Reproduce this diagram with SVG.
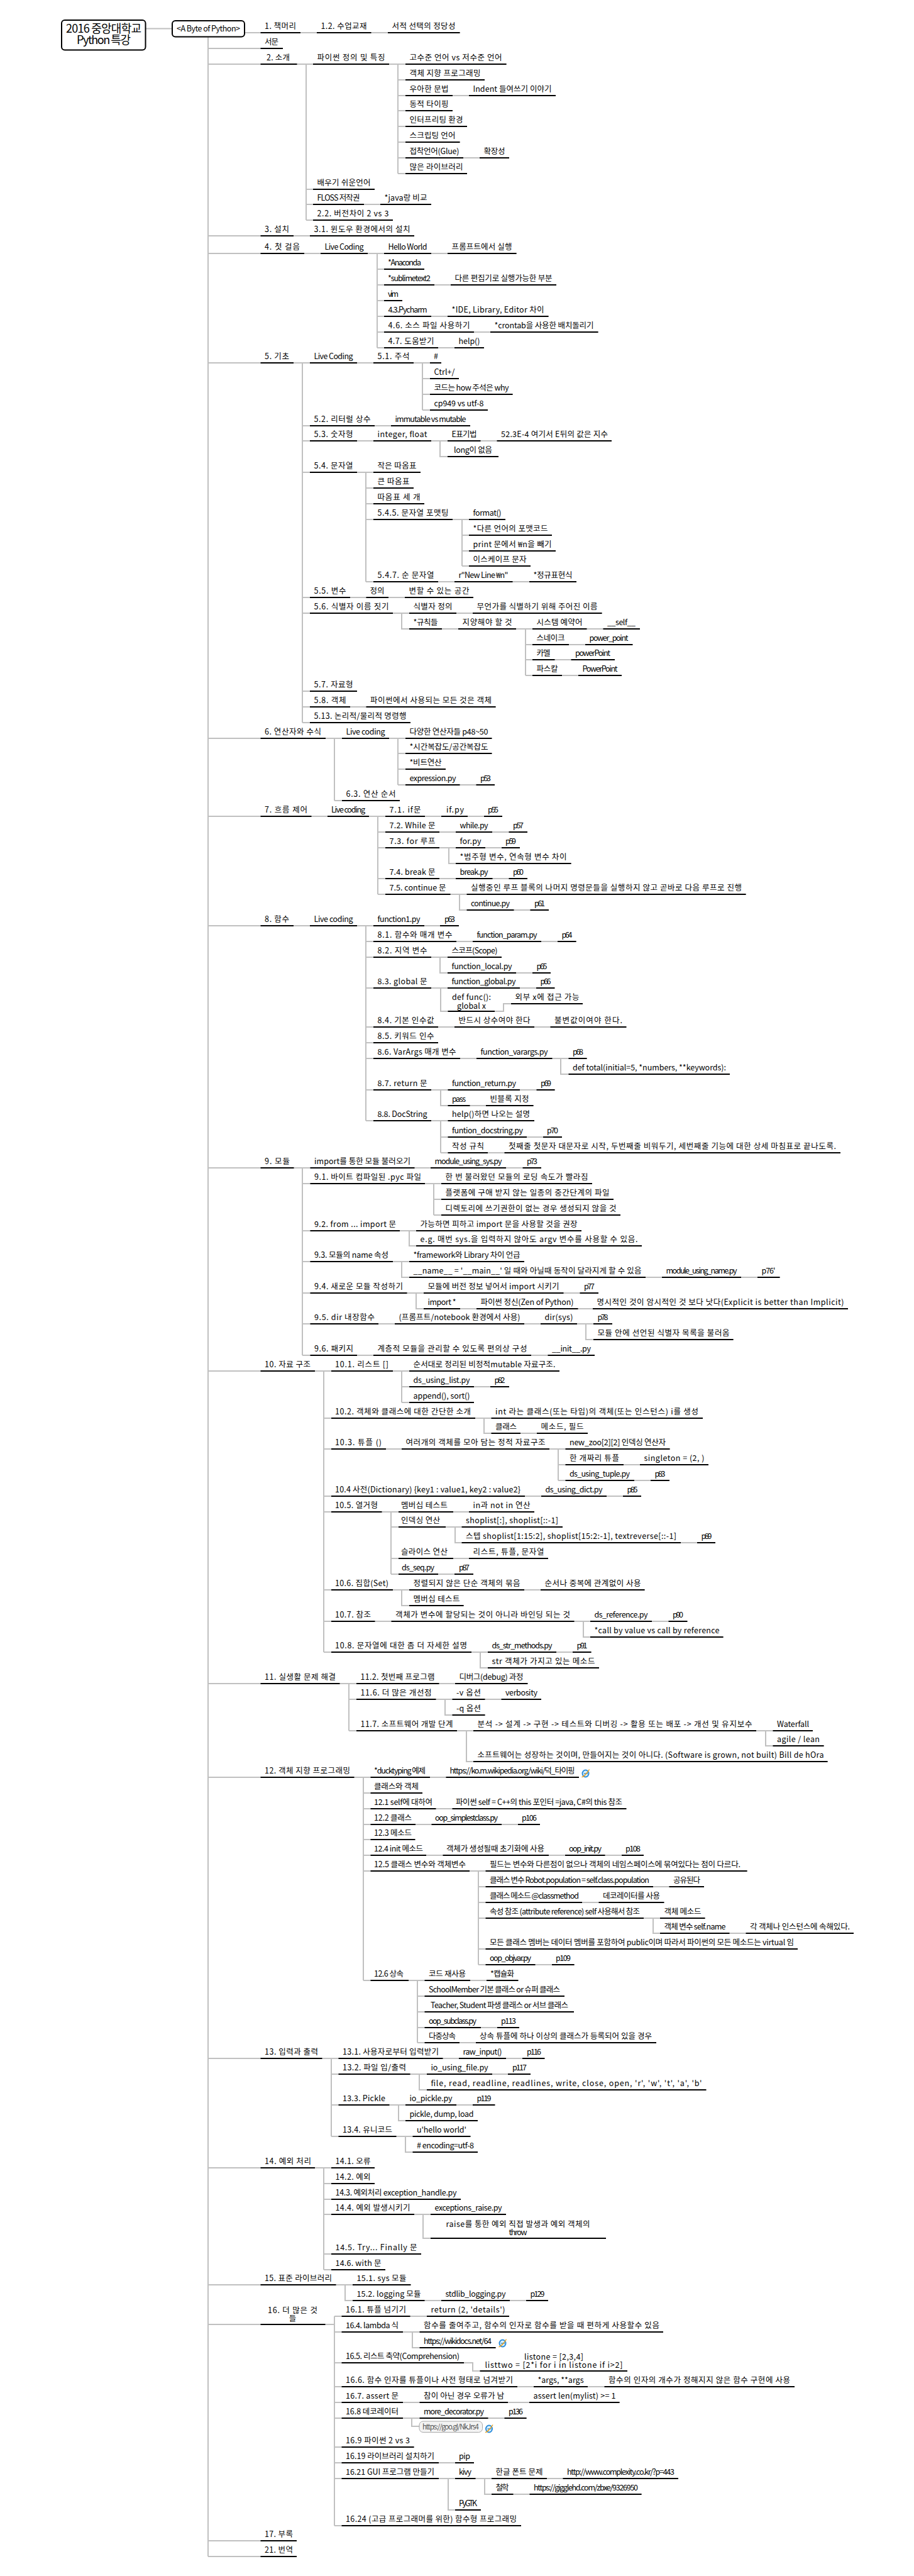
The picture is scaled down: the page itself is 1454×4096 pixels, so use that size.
<svg xmlns="http://www.w3.org/2000/svg" width="1454" height="4096" viewBox="0 0 1454 4096">
<style>
text{font-family:"Noto Sans CJK KR","Noto Sans",sans-serif;font-size:12.5px;fill:#000}
g path{fill:none;stroke:#000;stroke-width:2}
#connectors path{stroke:#c0c0c0;stroke-width:2;fill:none}
.m{text-anchor:middle}
.t{font-size:18px}
.u{font-size:11.5px;fill:#555}
</style>
<defs>
<symbol id="ie" viewBox="0 0 15 15"><ellipse cx="7.5" cy="8" rx="5" ry="5.5" fill="#d9f1ff" style="stroke:#2d8ddb;stroke-width:2"/><path d="M5 8H11" style="stroke:#2d8ddb;stroke-width:1.5"/><path d="M1.500 13.500C4 14 11 6 13.500 1.500" style="stroke:#e8a020;stroke-width:1.500;fill:none"/></symbol>
</defs>
<g id="connectors">
<path d="M231 45.500H274M331 58V4065M389 52H732M331 77H450"/>
<path d="M331 102H806M487 102V350M633 102V276M633 127H771M633 152H884M633 176H720M633 201H743M633 226H732M633 251H810M633 276H743M487 301H596M487 325H686M487 350H625"/>
<path d="M331 375H659"/>
<path d="M331 403H822M600 403V553M600 428H675M600 453H885M600 478H640M600 503H873M600 528H952M600 553H770"/>
<path d="M331 577H702M481 577V1149M672 577V652M672 602H730M672 627H816M672 652H776M481 677H748M481 701H973M700 701V726H793M481 751H669M582 751V925M582 776H658M582 801H675M582 826H804M735 826V900M735 851H878M735 876H884M735 900H844M582 925H917M481 950H753M481 975H958M639 975V1000H1018M836 1000V1074M836 1025H1006M836 1049H978M836 1074H989M481 1099H568M481 1124H789M481 1149H653"/>
<path d="M331 1174H782M532 1174V1273M633 1174V1248M633 1198H782M633 1223H709M633 1248H787M532 1273H636"/>
<path d="M331 1298H799M601 1298V1422M601 1323H839M601 1348H827M714 1348V1373H909M601 1397H839M601 1422H1187M731 1422V1447H873"/>
<path d="M331 1472H730M582 1472V1782M582 1497H917M582 1522H798M700 1522V1547H876M582 1571H882M701 1571V1608H787V1608H801V1596H927M582 1633H996M582 1658H697M582 1683H934M892 1683V1708H1161M582 1733H883M701 1733V1758H849M582 1782H850M701 1782V1833M701 1808H894M701 1833H1337"/>
<path d="M331 1857H861M481 1857V2155M481 1882H942M690 1882V1932M690 1907H976M690 1932H987M481 1957H925M651 1957V1981H1021M481 2006H834M639 2006V2031H1241M481 2056H952M662 2056V2081H1349M481 2105H974M932 2105V2130H1167M481 2155H946"/>
<path d="M331 2180H890M515 2180V2627M639 2180V2230M639 2205H810M639 2230H754M515 2255H1118M770 2255V2279H935M515 2304H1066M888 2304V2354M888 2329H1127M888 2354H1065M515 2379H1020M515 2404H850M622 2404V2503M622 2428H895M724 2428V2453H1138M622 2478H872M622 2503H753M515 2528H1026M639 2528V2553H738M515 2578H1093M928 2578V2603H1151M515 2627H941M764 2627V2652H953"/>
<path d="M331 2677H839M555 2677V2752M555 2702H861M708 2702V2727H772M555 2752H1293M742 2752V2801H1317M1218 2752V2776H1311"/>
<path d="M331 2826H921M578 2826V3149M578 2851H672M578 2876H996M578 2901H859M578 2925H660M578 2950H1024M578 2975H1189M761 2975V3124M761 3000H1120M761 3025H1056M761 3050H1122M1039 3050V3074H1358M761 3099H1269M761 3124H914M578 3149H824M664 3149V3248M664 3174H898M664 3199H913M664 3224H826M664 3248H1044"/>
<path d="M331 3273H866M527 3273V3397M527 3298H844M667 3298V3323H1123M527 3347H787M634 3347V3372H760M527 3397H748M645 3397V3422H760"/>
<path d="M331 3447H596M515 3447V3609M515 3472H596M515 3497H733M515 3521H805M673 3521V3559H964M515 3584H670M515 3609H613"/>
<path d="M331 3633H653M549 3633V3658H872"/>
<path d="M331 3696H532M532 3683V4016M532 3683H810M532 3708H1055M656 3708V3733H789M532 3757H738H752V3770H998M532 3795H1264M532 3820H986M532 3845H838M655 3845V3858H667M532 3891H659M532 3916H754M532 3941H1079M713 3941V3991H765M771 3941V3966H1021M532 4016H829"/>
<path d="M331 4040H472M331 4065H472"/>
</g>
<g id="root"><rect x="98" y="32" width="133.500" height="47.500" rx="5" fill="#fff" stroke="#000" stroke-width="2"/><text class="t m" x="165" y="52" textLength="120">2016 중앙대학교</text><text class="t m" x="165" y="70" textLength="86">Python 특강</text></g>
<g id="book"><rect x="274" y="33" width="115" height="25.500" rx="5" fill="#fff" stroke="#000" stroke-width="2"/><text x="281" y="50" textLength="101">&lt;A Byte of Python&gt;</text></g>
<g id="n1"><text x="421" y="46" textLength="50">1. 책머리</text><path d="M414.500 52H478"/></g>
<g id="n2"><text x="510.500" y="46" textLength="73">1.2. 수업교재</text><path d="M504 52H590.500"/></g>
<g id="n3"><text x="623.500" y="46" textLength="101">서적 선택의 정당성</text><path d="M617 52H731.500"/></g>
<g id="n4"><text x="421" y="71" textLength="22">서문</text><path d="M414.500 77H450"/></g>
<g id="n5"><text x="424" y="96" textLength="37">2. 소개</text><path d="M414.500 102H472.500"/></g>
<g id="n6"><text x="504.500" y="96" textLength="108">파이썬 정의 및 특징</text><path d="M498 102H619"/></g>
<g id="n7"><text x="651.500" y="96" textLength="147">고수준 언어 vs 저수준 언어</text><path d="M645 102H805.500"/></g>
<g id="n8"><text x="651.500" y="121" textLength="113">객체 지향 프로그래밍</text><path d="M645 127H771"/></g>
<g id="n9"><text x="651.500" y="146" textLength="62">우아한 문법</text><path d="M645 152H720"/></g>
<g id="n10"><text x="752.500" y="146" textLength="125">Indent 들여쓰기 이야기</text><path d="M746 152H884"/></g>
<g id="n11"><text x="651.500" y="170" textLength="62">동적 타이핑</text><path d="M645 176H720"/></g>
<g id="n12"><text x="651.500" y="195" textLength="85">인터프리팅 환경</text><path d="M645 201H743"/></g>
<g id="n13"><text x="651.500" y="220" textLength="73">스크립팅 언어</text><path d="M645 226H731.500"/></g>
<g id="n14"><text x="651.500" y="245" textLength="79">접착언어(Glue)</text><path d="M645 251H737"/></g>
<g id="n15"><text x="769.500" y="245" textLength="34">확장성</text><path d="M763 251H810"/></g>
<g id="n16"><text x="651.500" y="270" textLength="85">많은 라이브러리</text><path d="M645 276H743"/></g>
<g id="n17"><text x="504.500" y="295" textLength="85">배우기 쉬운언어</text><path d="M498 301H596"/></g>
<g id="n18"><text x="504.500" y="319" textLength="68">FLOSS 저작권</text><path d="M498 325H579"/></g>
<g id="n19"><text x="611.500" y="319" textLength="68">*java랑 비교</text><path d="M605 325H686"/></g>
<g id="n20"><text x="504.500" y="344" textLength="114">2.2. 버전차이 2 vs 3</text><path d="M498 350H625"/></g>
<g id="n21"><text x="421" y="369" textLength="39">3. 설치</text><path d="M414.500 375H467"/></g>
<g id="n22"><text x="499.500" y="369" textLength="153">3.1. 윈도우 환경에서의 설치</text><path d="M493 375H659"/></g>
<g id="n23"><text x="421" y="397" textLength="56">4. 첫 걸음</text><path d="M414.500 403H484"/></g>
<g id="n24"><text x="516.500" y="397" textLength="62">Live Coding</text><path d="M510 403H585"/></g>
<g id="n25"><text x="617.500" y="397" textLength="62">Hello World</text><path d="M611 403H686"/></g>
<g id="n26"><text x="718.500" y="397" textLength="96">프롬프트에서 실행</text><path d="M712 403H821.500"/></g>
<g id="n27"><text x="617" y="422" textLength="53">*Anaconda</text><path d="M611 428H675"/></g>
<g id="n28"><text x="617" y="447" textLength="68">*sublimetext2</text><path d="M611 453H691"/></g>
<g id="n29"><text x="723.500" y="447" textLength="155">다른 편집기로 실행가능한 부분</text><path d="M717 453H885"/></g>
<g id="n30"><text x="617" y="472" textLength="17">vim</text><path d="M611 478H640"/></g>
<g id="n31"><text x="617.500" y="497" textLength="62">4.3.Pycharm</text><path d="M611 503H686"/></g>
<g id="n32"><text x="718.500" y="497" textLength="147">*IDE, Library, Editor 차이</text><path d="M712 503H872.500"/></g>
<g id="n33"><text x="617.500" y="522" textLength="130">4.6. 소스 파일 사용하기</text><path d="M611 528H754"/></g>
<g id="n34"><text x="786.500" y="522" textLength="158">*crontab을 사용한 배치돌리기</text><path d="M780 528H951.500"/></g>
<g id="n35"><text x="617.500" y="547" textLength="73">4.7. 도움받기</text><path d="M611 553H697"/></g>
<g id="n36"><text x="729.500" y="547" textLength="34">help()</text><path d="M723 553H770"/></g>
<g id="n37"><text x="421" y="571" textLength="39">5. 기초</text><path d="M414.500 577H467"/></g>
<g id="n38"><text x="499.500" y="571" textLength="62">Live Coding</text><path d="M493 577H568"/></g>
<g id="n39"><text x="600.500" y="571" textLength="51">5.1. 주석</text><path d="M594 577H658"/></g>
<g id="n40"><text x="690" y="571" textLength="6">#</text><path d="M684 577H702"/></g>
<g id="n41"><text x="690.500" y="596" textLength="33">Ctrl+/</text><path d="M684 602H730"/></g>
<g id="n42"><text x="690.500" y="621" textLength="119">코드는 how 주석은 why</text><path d="M684 627H815.500"/></g>
<g id="n43"><text x="690.500" y="646" textLength="79">cp949 vs utf-8</text><path d="M684 652H776"/></g>
<g id="n44"><text x="499.500" y="671" textLength="90">5.2. 리터럴 상수</text><path d="M493 677H596"/></g>
<g id="n45"><text x="628.500" y="671" textLength="113">immutable vs mutable</text><path d="M622 677H748"/></g>
<g id="n46"><text x="499.500" y="695" textLength="62">5.3. 숫자형</text><path d="M493 701H568"/></g>
<g id="n47"><text x="600.500" y="695" textLength="79">integer, float</text><path d="M594 701H686"/></g>
<g id="n48"><text x="718.500" y="695" textLength="40">E표기법</text><path d="M712 701H764.500"/></g>
<g id="n49"><text x="797" y="695" textLength="170">52.3E-4 여기서 E뒤의 값은 지수</text><path d="M790.500 701H973"/></g>
<g id="n50"><text x="722" y="720" textLength="61">long이 없음</text><path d="M712 726H793"/></g>
<g id="n51"><text x="499.500" y="745" textLength="62">5.4. 문자열</text><path d="M493 751H568"/></g>
<g id="n52"><text x="600.500" y="745" textLength="62">작은 따옴표</text><path d="M594 751H669"/></g>
<g id="n53"><text x="600.500" y="770" textLength="51">큰 따옴표</text><path d="M594 776H658"/></g>
<g id="n54"><text x="600.500" y="795" textLength="68">따옴표 세 개</text><path d="M594 801H675"/></g>
<g id="n55"><text x="600.500" y="820" textLength="113">5.4.5. 문자열 포맷팅</text><path d="M594 826H720"/></g>
<g id="n56"><text x="752.500" y="820" textLength="45">format()</text><path d="M746 826H804"/></g>
<g id="n57"><text x="752.500" y="845" textLength="119">*다른 언어의 포맷코드</text><path d="M746 851H878"/></g>
<g id="n58"><text x="752.500" y="870" textLength="125">print 문에서 ₩n을 빼기</text><path d="M746 876H884"/></g>
<g id="n59"><text x="752.500" y="894" textLength="85">이스케이프 문자</text><path d="M746 900H844"/></g>
<g id="n60"><text x="600.500" y="919" textLength="90">5.4.7. 순 문자열</text><path d="M594 925H697"/></g>
<g id="n61"><text x="729.500" y="919" textLength="79">r"New Line ₩n"</text><path d="M723 925H815.500"/></g>
<g id="n62"><text x="848.500" y="919" textLength="62">*정규표현식</text><path d="M842 925H917"/></g>
<g id="n63"><text x="499.500" y="944" textLength="51">5.5. 변수</text><path d="M493 950H557"/></g>
<g id="n64"><text x="588.500" y="944" textLength="23">정의</text><path d="M582.500 950H618"/></g>
<g id="n65"><text x="650.500" y="944" textLength="96">변할 수 있는 공간</text><path d="M644 950H753"/></g>
<g id="n66"><text x="499.500" y="969" textLength="119">5.6. 식별자 이름 짓기</text><path d="M493 975H625"/></g>
<g id="n67"><text x="657.500" y="969" textLength="62">식별자 정의</text><path d="M651 975H726"/></g>
<g id="n68"><text x="758.500" y="969" textLength="192">무언가를 식별하기 위해 주어진 이름</text><path d="M752 975H957.500"/></g>
<g id="n69"><text x="657.500" y="994" textLength="39">*규칙들</text><path d="M651 1000H703"/></g>
<g id="n70"><text x="735.500" y="994" textLength="79">지양해야 할 것</text><path d="M729 1000H821"/></g>
<g id="n71"><text x="853.500" y="994" textLength="73">시스템 예약어</text><path d="M847 1000H933.500"/></g>
<g id="n72"><text x="966" y="994" textLength="45">__self__</text><path d="M959.500 1000H1018"/></g>
<g id="n73"><text x="853.500" y="1019" textLength="45">스네이크</text><path d="M847 1025H905"/></g>
<g id="n74"><text x="937.500" y="1019" textLength="62">power_point</text><path d="M931 1025H1006.500"/></g>
<g id="n75"><text x="853.500" y="1043" textLength="22">카멜</text><path d="M847 1049H882.500"/></g>
<g id="n76"><text x="915" y="1043" textLength="56">powerPoint</text><path d="M908.500 1049H978"/></g>
<g id="n77"><text x="853.500" y="1068" textLength="34">파스칼</text><path d="M847 1074H894"/></g>
<g id="n78"><text x="926.500" y="1068" textLength="56">PowerPoint</text><path d="M920 1074H989"/></g>
<g id="n79"><text x="499.500" y="1093" textLength="62">5.7. 자료형</text><path d="M493 1099H568"/></g>
<g id="n80"><text x="499.500" y="1118" textLength="51">5.8. 객체</text><path d="M493 1124H557"/></g>
<g id="n81"><text x="589" y="1118" textLength="193">파이썬에서 사용되는 모든 것은 객체</text><path d="M582.500 1124H788.500"/></g>
<g id="n82"><text x="499.500" y="1143" textLength="147">5.13. 논리적/물리적 명령행</text><path d="M493 1149H653"/></g>
<g id="n83"><text x="421" y="1168" textLength="90">6. 연산자와 수식</text><path d="M414.500 1174H518"/></g>
<g id="n84"><text x="550.500" y="1168" textLength="62">Live coding</text><path d="M544 1174H619"/></g>
<g id="n85"><text x="651.500" y="1168" textLength="125">다양한 연산자들 p48~50</text><path d="M645 1174H782.500"/></g>
<g id="n86"><text x="651.500" y="1192" textLength="125">*시간복잡도/공간복잡도</text><path d="M645 1198H782.500"/></g>
<g id="n87"><text x="651.500" y="1217" textLength="51">*비트연산</text><path d="M645 1223H709"/></g>
<g id="n88"><text x="651.500" y="1242" textLength="74">expression.py</text><path d="M645 1248H731.500"/></g>
<g id="n89"><text x="764" y="1242" textLength="17">p53</text><path d="M757.500 1248H787"/></g>
<g id="n90"><text x="550.500" y="1267" textLength="79">6.3. 연산 순서</text><path d="M544 1273H636"/></g>
<g id="n91"><text x="421" y="1292" textLength="68">7. 흐름 제어</text><path d="M414.500 1298H495.500"/></g>
<g id="n92"><text x="527" y="1292" textLength="54">Live coding</text><path d="M521 1298H587"/></g>
<g id="n93"><text x="619.500" y="1292" textLength="50">7.1. if문</text><path d="M613 1298H676"/></g>
<g id="n94"><text x="710" y="1292" textLength="28">if.py</text><path d="M702 1298H744"/></g>
<g id="n95"><text x="776" y="1292" textLength="17">p55</text><path d="M770 1298H799"/></g>
<g id="n96"><text x="619.500" y="1317" textLength="73">7.2. While 문</text><path d="M613 1323H699"/></g>
<g id="n97"><text x="731.500" y="1317" textLength="45">while.py</text><path d="M725 1323H783"/></g>
<g id="n98"><text x="816" y="1317" textLength="17">p57</text><path d="M809.500 1323H839"/></g>
<g id="n99"><text x="619.500" y="1342" textLength="73">7.3. for 루프</text><path d="M613 1348H699"/></g>
<g id="n100"><text x="731.500" y="1342" textLength="34">for.py</text><path d="M725 1348H772"/></g>
<g id="n101"><text x="804" y="1342" textLength="17">p59</text><path d="M798 1348H827"/></g>
<g id="n102"><text x="731.500" y="1367" textLength="170">*범주형 변수, 연속형 변수 차이</text><path d="M725 1373H908.500"/></g>
<g id="n103"><text x="619.500" y="1391" textLength="73">7.4. break 문</text><path d="M613 1397H699"/></g>
<g id="n104"><text x="731.500" y="1391" textLength="45">break.py</text><path d="M725 1397H783.500"/></g>
<g id="n105"><text x="816" y="1391" textLength="17">p60</text><path d="M809.500 1397H839"/></g>
<g id="n106"><text x="619.500" y="1416" textLength="90">7.5. continue 문</text><path d="M613 1422H716.500"/></g>
<g id="n107"><text x="749" y="1416" textLength="431">실행중인 루프 블록의 나머지 명령문들을 실행하지 않고 곧바로 다음 루프로 진행</text><path d="M742.500 1422H1186.500"/></g>
<g id="n108"><text x="749" y="1441" textLength="62">continue.py</text><path d="M742.500 1447H817.500"/></g>
<g id="n109"><text x="850" y="1441" textLength="17">p61</text><path d="M843.500 1447H873"/></g>
<g id="n110"><text x="421" y="1466" textLength="39">8. 함수</text><path d="M414.500 1472H467"/></g>
<g id="n111"><text x="499.500" y="1466" textLength="62">Live coding</text><path d="M493 1472H568"/></g>
<g id="n112"><text x="600.500" y="1466" textLength="68">function1.py</text><path d="M594 1472H675"/></g>
<g id="n113"><text x="707" y="1466" textLength="17">p63</text><path d="M700 1472H730"/></g>
<g id="n114"><text x="600.500" y="1491" textLength="119">8.1. 함수와 매개 변수</text><path d="M594 1497H726"/></g>
<g id="n115"><text x="758.500" y="1491" textLength="96">function_param.py</text><path d="M752 1497H861"/></g>
<g id="n116"><text x="893.500" y="1491" textLength="17">p64</text><path d="M887 1497H916.500"/></g>
<g id="n117"><text x="600.500" y="1516" textLength="79">8.2. 지역 변수</text><path d="M594 1522H686"/></g>
<g id="n118"><text x="718.500" y="1516" textLength="73">스코프(Scope)</text><path d="M712 1522H798"/></g>
<g id="n119"><text x="718.500" y="1541" textLength="96">function_local.py</text><path d="M712 1547H821"/></g>
<g id="n120"><text x="853.500" y="1541" textLength="17">p65</text><path d="M847 1547H876"/></g>
<g id="n121"><text x="600.500" y="1565" textLength="79">8.3. global 문</text><path d="M594 1571H686"/></g>
<g id="n122"><text x="718.500" y="1565" textLength="102">function_global.py</text><path d="M712 1571H827"/></g>
<g id="n123"><text x="859.500" y="1565" textLength="17">p66</text><path d="M853 1571H882.500"/></g>
<g id="n124"><text x="719" y="1590" textLength="62">def func():</text><text x="727" y="1604" textLength="46">global x</text><path d="M712.500 1608H787"/></g>
<g id="n125"><text x="819.500" y="1590" textLength="102">외부 x에 접근 가능</text><path d="M813 1596H927"/></g>
<g id="n126"><text x="600.500" y="1627" textLength="90">8.4. 기본 인수값</text><path d="M594 1633H697"/></g>
<g id="n127"><text x="729.500" y="1627" textLength="114">반드시 상수여야 한다</text><path d="M723 1633H850"/></g>
<g id="n128"><text x="882" y="1627" textLength="108">불변값이여야 한다.</text><path d="M875.500 1633H996.500"/></g>
<g id="n129"><text x="600.500" y="1652" textLength="90">8.5. 키워드 인수</text><path d="M594 1658H697"/></g>
<g id="n130"><text x="600.500" y="1677" textLength="125">8.6. VarArgs 매개 변수</text><path d="M594 1683H732"/></g>
<g id="n131"><text x="764.500" y="1677" textLength="107">function_varargs.py</text><path d="M758 1683H878.500"/></g>
<g id="n132"><text x="911" y="1677" textLength="17">p68</text><path d="M904.500 1683H933.500"/></g>
<g id="n133"><text x="911" y="1702" textLength="244">def total(initial=5, *numbers, **keywords):</text><path d="M904.500 1708H1161"/></g>
<g id="n134"><text x="600.500" y="1727" textLength="79">8.7. return 문</text><path d="M594 1733H686"/></g>
<g id="n135"><text x="719" y="1727" textLength="102">function_return.py</text><path d="M712.500 1733H827"/></g>
<g id="n136"><text x="860" y="1727" textLength="17">p69</text><path d="M853.500 1733H882.500"/></g>
<g id="n137"><text x="719" y="1752" textLength="22">pass</text><path d="M712.500 1758H747.500"/></g>
<g id="n138"><text x="779.500" y="1752" textLength="62">빈블록 지정</text><path d="M773 1758H848.500"/></g>
<g id="n139"><text x="600.500" y="1776" textLength="79">8.8. DocString</text><path d="M594 1782H686"/></g>
<g id="n140"><text x="719" y="1776" textLength="124">help()하면 나오는 설명</text><path d="M712.500 1782H850"/></g>
<g id="n141"><text x="719" y="1802" textLength="113">funtion_docstring.py</text><path d="M712.500 1808H838"/></g>
<g id="n142"><text x="870" y="1802" textLength="18">p70</text><path d="M864 1808H894"/></g>
<g id="n143"><text x="719" y="1827" textLength="51">작성 규칙</text><path d="M712.500 1833H776"/></g>
<g id="n144"><text x="809" y="1827" textLength="521">첫째줄 첫문자 대문자로 시작, 두번째줄 비워두기, 세번째줄 기능에 대한 상세 마침표로 끝나도록.</text><path d="M802.500 1833H1337"/></g>
<g id="n145"><text x="421" y="1851" textLength="40">9. 모듈</text><path d="M414.500 1857H467.500"/></g>
<g id="n146"><text x="500" y="1851" textLength="153">import를 통한 모듈 불러오기</text><path d="M493.500 1857H659.500"/></g>
<g id="n147"><text x="691.500" y="1851" textLength="107">module_using_sys.py</text><path d="M685 1857H805"/></g>
<g id="n148"><text x="838" y="1851" textLength="17">p73</text><path d="M831.500 1857H861"/></g>
<g id="n149"><text x="500" y="1876" textLength="170">9.1. 바이트 컴파일된 .pyc 파일</text><path d="M493.500 1882H676"/></g>
<g id="n150"><text x="708.500" y="1876" textLength="227">한 번 불러왔던 모듈의 로딩 속도가 빨라짐</text><path d="M702 1882H942"/></g>
<g id="n151"><text x="708.500" y="1901" textLength="261">플랫폼에 구애 받지 않는 일종의 중간단계의 파일</text><path d="M702 1907H976"/></g>
<g id="n152"><text x="708.500" y="1926" textLength="272">디렉토리에 쓰기권한이 없는 경우 생성되지 않을 것</text><path d="M702 1932H987"/></g>
<g id="n153"><text x="500" y="1951" textLength="130">9.2. from ... import 문</text><path d="M493.500 1957H636"/></g>
<g id="n154"><text x="668.500" y="1951" textLength="250">가능하면 피하고 import 문을 사용할 것을 권장</text><path d="M662 1957H925"/></g>
<g id="n155"><text x="668.500" y="1975" textLength="346">e.g. 매번 sys.을 입력하지 않아도 argv 변수를 사용할 수 있음.</text><path d="M662 1981H1021"/></g>
<g id="n156"><text x="500" y="2000" textLength="118">9.3. 모듈의 name 속성</text><path d="M493.500 2006H625"/></g>
<g id="n157"><text x="657.500" y="2000" textLength="170">*framework와 Library 차이 언급</text><path d="M651 2006H834"/></g>
<g id="n158"><text x="657.500" y="2025" textLength="363">__name__ = '__main__' 일 때와 아닐때 동작이 달라지게 할 수 있음</text><path d="M651 2031H1027"/></g>
<g id="n159"><text x="1059.500" y="2025" textLength="113">module_using_name.py</text><path d="M1053 2031H1179"/></g>
<g id="n160"><text x="1211.500" y="2025" textLength="22">p76'</text><path d="M1205 2031H1240.500"/></g>
<g id="n161"><text x="500" y="2050" textLength="141">9.4. 새로운 모듈 작성하기</text><path d="M493.500 2056H647.500"/></g>
<g id="n162"><text x="680.500" y="2050" textLength="209">모듈에 버전 정보 넣어서 import 시키기</text><path d="M674 2056H896.500"/></g>
<g id="n163"><text x="929" y="2050" textLength="17">p77</text><path d="M922.500 2056H952"/></g>
<g id="n164"><text x="680.500" y="2075" textLength="45">import *</text><path d="M674 2081H732"/></g>
<g id="n165"><text x="764.500" y="2075" textLength="148">파이썬 정신(Zen of Python)</text><path d="M758 2081H919.500"/></g>
<g id="n166"><text x="949.500" y="2075" textLength="393">명시적인 것이 암시적인 것 보다 낫다(Explicit is better than Implicit)</text><path d="M943 2081H1349"/></g>
<g id="n167"><text x="500" y="2099" textLength="96">9.5. dir 내장함수</text><path d="M493.500 2105H602"/></g>
<g id="n168"><text x="634.500" y="2099" textLength="193">(프롬프트/notebook 환경에서 사용)</text><path d="M628 2105H834"/></g>
<g id="n169"><text x="866.500" y="2099" textLength="45">dir(sys)</text><path d="M860 2105H918"/></g>
<g id="n170"><text x="950.500" y="2099" textLength="17">p78</text><path d="M944 2105H974"/></g>
<g id="n171"><text x="950.500" y="2124" textLength="210">모듈 안에 선언된 식별자 목록을 불러옴</text><path d="M944 2130H1166.500"/></g>
<g id="n172"><text x="500" y="2149" textLength="62">9.6. 패키지</text><path d="M493.500 2155H568"/></g>
<g id="n173"><text x="600.500" y="2149" textLength="238">계층적 모듈을 관리할 수 있도록 편의상 구성</text><path d="M594 2155H845"/></g>
<g id="n174"><text x="878" y="2149" textLength="62">__init__.py</text><path d="M871.500 2155H946"/></g>
<g id="n175"><text x="421" y="2174" textLength="73">10. 자료 구조</text><path d="M414.500 2180H501"/></g>
<g id="n176"><text x="533" y="2174" textLength="85">10.1. 리스트 []</text><path d="M527 2180H625"/></g>
<g id="n177"><text x="657.500" y="2174" textLength="226">순서대로 정리된 비정적mutable 자료구조.</text><path d="M651 2180H890"/></g>
<g id="n178"><text x="657.500" y="2199" textLength="90">ds_using_list.py</text><path d="M651 2205H754"/></g>
<g id="n179"><text x="786.500" y="2199" textLength="17">p82</text><path d="M780 2205H810"/></g>
<g id="n180"><text x="657.500" y="2224" textLength="90">append(), sort()</text><path d="M651 2230H754"/></g>
<g id="n181"><text x="533" y="2249" textLength="216">10.2. 객체와 클래스에 대한 간단한 소개</text><path d="M527 2255H756"/></g>
<g id="n182"><text x="788" y="2249" textLength="323">int 라는 클래스(또는 타입)의 객체(또는 인스턴스) i를 생성</text><path d="M781.500 2255H1118"/></g>
<g id="n183"><text x="788" y="2273" textLength="34">클래스</text><path d="M781.500 2279H828"/></g>
<g id="n184"><text x="860.500" y="2273" textLength="68">메소드, 필드</text><path d="M854 2279H935"/></g>
<g id="n185"><text x="533" y="2298" textLength="74">10.3. 튜플 ()</text><path d="M527 2304H614"/></g>
<g id="n186"><text x="645.500" y="2298" textLength="222">여러개의 객체를 모아 담는 정적 자료구조</text><path d="M639 2304H874"/></g>
<g id="n187"><text x="906" y="2298" textLength="153">new_zoo[2][2] 인덱싱 연산자</text><path d="M899.500 2304H1065.500"/></g>
<g id="n188"><text x="906" y="2323" textLength="79">한 개짜리 튜플</text><path d="M899.500 2329H992"/></g>
<g id="n189"><text x="1024.500" y="2323" textLength="96">singleton = (2, )</text><path d="M1018 2329H1127"/></g>
<g id="n190"><text x="906" y="2348" textLength="96">ds_using_tuple.py</text><path d="M899.500 2354H1009"/></g>
<g id="n191"><text x="1041.500" y="2348" textLength="17">p83</text><path d="M1035 2354H1065"/></g>
<g id="n192"><text x="533" y="2373" textLength="295">10.4 사전(Dictionary) {key1 : value1, key2 : value2}</text><path d="M527 2379H835"/></g>
<g id="n193"><text x="867.500" y="2373" textLength="91">ds_using_dict.py</text><path d="M861 2379H965"/></g>
<g id="n194"><text x="997.500" y="2373" textLength="17">p85</text><path d="M991 2379H1020"/></g>
<g id="n195"><text x="533" y="2398" textLength="68">10.5. 열거형</text><path d="M527 2404H607.500"/></g>
<g id="n196"><text x="638" y="2398" textLength="74">멤버십 테스트</text><path d="M634 2404H721"/></g>
<g id="n197"><text x="752.500" y="2398" textLength="91">in과 not in 연산</text><path d="M746 2404H850"/></g>
<g id="n198"><text x="638" y="2422" textLength="62">인덱싱 연산</text><path d="M634 2428H709"/></g>
<g id="n199"><text x="741" y="2422" textLength="147">shoplist[:], shoplist[::-1]</text><path d="M734.500 2428H895"/></g>
<g id="n200"><text x="741" y="2447" textLength="335">스텝 shoplist[1:15:2], shoplist[15:2:-1], textreverse[::-1]</text><path d="M734.500 2453H1083"/></g>
<g id="n201"><text x="1115.500" y="2447" textLength="17">p89</text><path d="M1109 2453H1138"/></g>
<g id="n202"><text x="638" y="2472" textLength="74">슬라이스 연산</text><path d="M634 2478H721"/></g>
<g id="n203"><text x="752.500" y="2472" textLength="113">리스트, 튜플, 문자열</text><path d="M746 2478H872"/></g>
<g id="n204"><text x="639" y="2497" textLength="52">ds_seq.py</text><path d="M634 2503H697"/></g>
<g id="n205"><text x="730" y="2497" textLength="17">p87</text><path d="M723 2503H753"/></g>
<g id="n206"><text x="533" y="2522" textLength="85">10.6. 집합(Set)</text><path d="M527 2528H625"/></g>
<g id="n207"><text x="657.500" y="2522" textLength="170">정렬되지 않은 단순 객체의 묶음</text><path d="M651 2528H834"/></g>
<g id="n208"><text x="866.500" y="2522" textLength="153">순서나 중복에 관계없이 사용</text><path d="M860 2528H1025.500"/></g>
<g id="n209"><text x="657.500" y="2547" textLength="74">멤버십 테스트</text><path d="M651 2553H737.500"/></g>
<g id="n210"><text x="533" y="2572" textLength="57">10.7. 참조</text><path d="M527 2578H596.500"/></g>
<g id="n211"><text x="629" y="2572" textLength="278">객체가 변수에 할당되는 것이 아니라 바인딩 되는 것</text><path d="M622.500 2578H913.500"/></g>
<g id="n212"><text x="945.500" y="2572" textLength="85">ds_reference.py</text><path d="M939 2578H1037"/></g>
<g id="n213"><text x="1070" y="2572" textLength="17">p90</text><path d="M1063.500 2578H1093.500"/></g>
<g id="n214"><text x="945.500" y="2597" textLength="199">*call by value vs call by reference</text><path d="M939 2603H1150.500"/></g>
<g id="n215"><text x="533" y="2621" textLength="210">10.8. 문자열에 대한 좀 더 자세한 설명</text><path d="M527 2627H750"/></g>
<g id="n216"><text x="782.500" y="2621" textLength="96">ds_str_methods.py</text><path d="M776 2627H885"/></g>
<g id="n217"><text x="917.500" y="2621" textLength="17">p91</text><path d="M911 2627H940.500"/></g>
<g id="n218"><text x="782.500" y="2646" textLength="164">str 객체가 가지고 있는 메소드</text><path d="M776 2652H953"/></g>
<g id="n219"><text x="421" y="2671" textLength="113">11. 실생활 문제 해결</text><path d="M414.500 2677H540.500"/></g>
<g id="n220"><text x="573.500" y="2671" textLength="118">11.2. 첫번째 프로그램</text><path d="M567 2677H698.500"/></g>
<g id="n221"><text x="730.500" y="2671" textLength="102">디버그(debug) 과정</text><path d="M724 2677H839.500"/></g>
<g id="n222"><text x="573.500" y="2696" textLength="113">11.6. 더 많은 개선점</text><path d="M567 2702H693.500"/></g>
<g id="n223"><text x="726" y="2696" textLength="39">-v 옵션</text><path d="M719.500 2702H771.500"/></g>
<g id="n224"><text x="804" y="2696" textLength="51">verbosity</text><path d="M797.500 2702H861"/></g>
<g id="n225"><text x="726" y="2721" textLength="39">-q 옵션</text><path d="M719.500 2727H771.500"/></g>
<g id="n226"><text x="573.500" y="2746" textLength="147">11.7. 소프트웨어 개발 단계</text><path d="M567 2752H727"/></g>
<g id="n227"><text x="759.500" y="2746" textLength="437">분석 -&gt; 설계 -&gt; 구현 -&gt; 테스트와 디버깅 -&gt; 활용 또는 배포 -&gt; 개선 및 유지보수</text><path d="M753 2752H1203"/></g>
<g id="n228"><text x="1236" y="2746" textLength="51">Waterfall</text><path d="M1229.500 2752H1293"/></g>
<g id="n229"><text x="1236" y="2770" textLength="68">agile / lean</text><path d="M1229.500 2776H1310.500"/></g>
<g id="n230"><text x="759.500" y="2795" textLength="551">소프트웨어는 성장하는 것이며, 만들어지는 것이 아니다. (Software is grown, not built) Bill de hOra</text><path d="M753 2801H1316.500"/></g>
<g id="n231"><text x="421" y="2820" textLength="136">12. 객체 지향 프로그래밍</text><path d="M414.500 2826H563.500"/></g>
<g id="n232"><text x="595" y="2820" textLength="82">*ducktyping 예제</text><path d="M589.500 2826H684"/></g>
<g id="n233"><text x="715.500" y="2820" textLength="199">https://ko.m.wikipedia.org/wiki/덕_타이핑</text><path d="M709.500 2826H921"/><use href="#ie" x="924" y="2812" width="15" height="15"/></g>
<g id="n234"><text x="595" y="2845" textLength="71">클래스와 객체</text><path d="M589.500 2851H672"/></g>
<g id="n235"><text x="595" y="2870" textLength="93">12.1 self에 대하여</text><path d="M589.500 2876H693.500"/></g>
<g id="n236"><text x="725" y="2870" textLength="265">파이썬 self = C++의 this 포인터 =java, C#의 this 참조</text><path d="M719.500 2876H996.500"/></g>
<g id="n237"><text x="595" y="2895" textLength="60">12.2 클래스</text><path d="M589.500 2901H661"/></g>
<g id="n238"><text x="692" y="2895" textLength="100">oop_simplestclass.py</text><path d="M686.500 2901H798"/></g>
<g id="n239"><text x="830" y="2895" textLength="24">p106</text><path d="M824 2901H859"/></g>
<g id="n240"><text x="595" y="2919" textLength="60">12.3 메소드</text><path d="M589.500 2925H660.500"/></g>
<g id="n241"><text x="595" y="2944" textLength="78">12.4 init 메소드</text><path d="M589.500 2950H678"/></g>
<g id="n242"><text x="710" y="2944" textLength="156">객체가 생성될때 초기화에 사용</text><path d="M704.500 2950H873"/></g>
<g id="n243"><text x="905" y="2944" textLength="52">oop_init.py</text><path d="M899 2950H962.500"/></g>
<g id="n244"><text x="995" y="2944" textLength="24">p108</text><path d="M989 2950H1024"/></g>
<g id="n245"><text x="595" y="2969" textLength="146">12.5 클래스 변수와 객체변수</text><path d="M589.500 2975H747"/></g>
<g id="n246"><text x="779" y="2969" textLength="399">필드는 변수와 다른점이 없으나 객체의 네임스페이스에 묶여있다는 점이 다르다.</text><path d="M772.500 2975H1188.500"/></g>
<g id="n247"><text x="779" y="2994" textLength="254">클래스 변수 Robot.population = self.class.population</text><path d="M772.500 3000H1039"/></g>
<g id="n248"><text x="1071" y="2994" textLength="43">공유된다</text><path d="M1064.500 3000H1120"/></g>
<g id="n249"><text x="779" y="3019" textLength="142">클래스 메소드 @classmethod</text><path d="M772.500 3025H926"/></g>
<g id="n250"><text x="959" y="3019" textLength="91">데코레이터를 사용</text><path d="M952.500 3025H1056.500"/></g>
<g id="n251"><text x="779" y="3044" textLength="239">속성 참조 (attribute reference) self 사용해서 참조</text><path d="M772.500 3050H1024"/></g>
<g id="n252"><text x="1056.500" y="3044" textLength="59">객체 메소드</text><path d="M1050 3050H1121.500"/></g>
<g id="n253"><text x="1056.500" y="3068" textLength="98">객체 변수 self.name</text><path d="M1050 3074H1160.500"/></g>
<g id="n254"><text x="1193" y="3068" textLength="159">각 객체나 인스턴스에 속해있다.</text><path d="M1186.500 3074H1358"/></g>
<g id="n255"><text x="779" y="3093" textLength="484">모든 클래스 멤버는 데이터 멤버를 포함하여 public이며 따라서 파이썬의 모든 메소드는 virtual 임</text><path d="M772.500 3099H1269"/></g>
<g id="n256"><text x="779" y="3118" textLength="66">oop_objvar.py</text><path d="M772.500 3124H851.500"/></g>
<g id="n257"><text x="884" y="3118" textLength="24">p109</text><path d="M878 3124H913.500"/></g>
<g id="n258"><text x="595" y="3143" textLength="47">12.6 상속</text><path d="M589.500 3149H650"/></g>
<g id="n259"><text x="682" y="3143" textLength="59">코드 재사용</text><path d="M675.500 3149H748"/></g>
<g id="n260"><text x="780" y="3143" textLength="38">*캡슐화</text><path d="M774 3149H824.500"/></g>
<g id="n261"><text x="682" y="3168" textLength="209">SchoolMember 기본 클래스 or 슈퍼 클래스</text><path d="M675.500 3174H898"/></g>
<g id="n262"><text x="685" y="3193" textLength="219">Teacher, Student 파생 클래스 or 서브 클래스</text><path d="M675.500 3199H913"/></g>
<g id="n263"><text x="682" y="3218" textLength="76">oop_subclass.py</text><path d="M675.500 3224H765"/></g>
<g id="n264"><text x="797" y="3218" textLength="24">p113</text><path d="M791 3224H826"/></g>
<g id="n265"><text x="682" y="3242" textLength="43">다중상속</text><path d="M675.500 3248H731"/></g>
<g id="n266"><text x="763" y="3242" textLength="274">상속 튜플에 하나 이상의 클래스가 등록되어 있을 경우</text><path d="M757 3248H1044"/></g>
<g id="n267"><text x="421" y="3267" textLength="85">13. 입력과 출력</text><path d="M414.500 3273H512.500"/></g>
<g id="n268"><text x="545" y="3267" textLength="153">13.1. 사용자로부터 입력받기</text><path d="M538.500 3273H704.500"/></g>
<g id="n269"><text x="736.500" y="3267" textLength="62">raw_input()</text><path d="M730 3273H805"/></g>
<g id="n270"><text x="838" y="3267" textLength="23">p116</text><path d="M831 3273H866.500"/></g>
<g id="n271"><text x="545" y="3292" textLength="101">13.2. 파일 입/출력</text><path d="M538.500 3298H652.500"/></g>
<g id="n272"><text x="685.500" y="3292" textLength="91">io_using_file.py</text><path d="M679 3298H783"/></g>
<g id="n273"><text x="815" y="3292" textLength="23">p117</text><path d="M808 3298H844"/></g>
<g id="n274"><text x="685.500" y="3317" textLength="431">file, read, readline, readlines, write, close, open, 'r', 'w', 't', 'a', 'b'</text><path d="M679 3323H1123.500"/></g>
<g id="n275"><text x="545" y="3341" textLength="68">13.3. Pickle</text><path d="M538.500 3347H619.500"/></g>
<g id="n276"><text x="651.500" y="3341" textLength="68">io_pickle.py</text><path d="M645 3347H726"/></g>
<g id="n277"><text x="758.500" y="3341" textLength="23">p119</text><path d="M752 3347H787.500"/></g>
<g id="n278"><text x="651.500" y="3366" textLength="102">pickle, dump, load</text><path d="M645 3372H760"/></g>
<g id="n279"><text x="545" y="3391" textLength="79">13.4. 유니코드</text><path d="M538.500 3397H630.500"/></g>
<g id="n280"><text x="663" y="3391" textLength="79">u'hello world'</text><path d="M656.500 3397H748.500"/></g>
<g id="n281"><text x="663" y="3416" textLength="91"># encoding=utf-8</text><path d="M656.500 3422H760"/></g>
<g id="n282"><text x="421" y="3441" textLength="74">14. 예외 처리</text><path d="M414.500 3447H501"/></g>
<g id="n283"><text x="533.500" y="3441" textLength="56">14.1. 오류</text><path d="M527 3447H596"/></g>
<g id="n284"><text x="533.500" y="3466" textLength="56">14.2. 예외</text><path d="M527 3472H596"/></g>
<g id="n285"><text x="533.500" y="3491" textLength="193">14.3. 예외처리 exception_handle.py</text><path d="M527 3497H733"/></g>
<g id="n286"><text x="533.500" y="3515" textLength="119">14.4. 예외 발생시키기</text><path d="M527 3521H659"/></g>
<g id="n287"><text x="691.500" y="3515" textLength="107">exceptions_raise.py</text><path d="M685 3521H805"/></g>
<g id="n288"><text class="m" x="824" y="3541" textLength="229">raise를 통한 예외 직접 발생과 예외 객체의</text><text class="m" x="824" y="3553.500" textLength="29">throw</text><path d="M685 3559H964"/></g>
<g id="n289"><text x="533.500" y="3578" textLength="130">14.5. Try... Finally 문</text><path d="M527 3584H670"/></g>
<g id="n290"><text x="533.500" y="3603" textLength="73">14.6. with 문</text><path d="M527 3609H613"/></g>
<g id="n291"><text x="421" y="3627" textLength="107">15. 표준 라이브러리</text><path d="M414.500 3633H534.500"/></g>
<g id="n292"><text x="567.500" y="3627" textLength="79">15.1. sys 모듈</text><path d="M561 3633H653.500"/></g>
<g id="n293"><text x="567.500" y="3652" textLength="102">15.2. logging 모듈</text><path d="M561 3658H675.500"/></g>
<g id="n294"><text x="708.500" y="3652" textLength="96">stdlib_logging.py</text><path d="M702 3658H811"/></g>
<g id="n295"><text x="843.500" y="3652" textLength="23">p129</text><path d="M837 3658H872"/></g>
<g id="n296"><text class="m" x="465.500" y="3678" textLength="79">16. 더 많은 것</text><text class="m" x="465.500" y="3691" textLength="12">들</text><path d="M414.500 3696H517.500"/></g>
<g id="n297"><text x="550" y="3677" textLength="96">16.1. 튜플 넘기기</text><path d="M543.500 3683H652.500"/></g>
<g id="n298"><text x="685.500" y="3677" textLength="118">return (2, 'details')</text><path d="M679 3683H810"/></g>
<g id="n299"><text x="550" y="3702" textLength="84">16.4. lambda 식</text><path d="M543.500 3708H641"/></g>
<g id="n300"><text x="674" y="3702" textLength="375">함수를 줄여주고, 함수의 인자로 함수를 받을 때 편하게 사용할수 있음</text><path d="M667.500 3708H1055"/></g>
<g id="n301"><text x="674" y="3727" textLength="108">https://wikidocs.net/64</text><path d="M667.500 3733H788.500"/><use href="#ie" x="792" y="3718" width="15" height="15"/></g>
<g id="n302"><text x="550" y="3751" textLength="181">16.5. 리스트 축약(Comprehension)</text><path d="M543.500 3757H738"/></g>
<g id="n303"><text class="m" x="881" y="3752" textLength="94">listone = [2,3,4]</text><text class="m" x="881" y="3765" textLength="219">listtwo = [2*i for i in listone if i&gt;2]</text><path d="M763.500 3770H998"/></g>
<g id="n304"><text x="550" y="3789" textLength="266">16.6. 함수 인자를 튜플이나 사전 형태로 넘겨받기</text><path d="M543.500 3795H823"/></g>
<g id="n305"><text x="855.500" y="3789" textLength="73">*args, **args</text><path d="M849 3795H935"/></g>
<g id="n306"><text x="968" y="3789" textLength="289">함수의 인자의 개수가 정해지지 않은 함수 구현에 사용</text><path d="M961.500 3795H1264"/></g>
<g id="n307"><text x="550" y="3814" textLength="84">16.7. assert 문</text><path d="M543.500 3820H641"/></g>
<g id="n308"><text x="674" y="3814" textLength="128">참이 아닌 경우 오류가 남</text><path d="M667.500 3820H808"/></g>
<g id="n309"><text x="848.500" y="3814" textLength="131">assert len(mylist) &gt;= 1</text><path d="M842 3820H985.500"/></g>
<g id="n310"><text x="550" y="3839" textLength="84">16.8 데코레이터</text><path d="M543.500 3845H641"/></g>
<g id="n311"><text x="674" y="3839" textLength="96">more_decorator.py</text><path d="M667.500 3845H776.500"/></g>
<g id="n312"><text x="809" y="3839" textLength="23">p136</text><path d="M802.500 3845H837.500"/></g>
<g id="n313"><rect x="667" y="3850" width="100.500" height="17.500" rx="6" fill="#f3f3f3" stroke="#aaa"/><text class="u" x="672" y="3863" textLength="90">https://goo.gl/NkJrs4</text><use href="#ie" x="770.500" y="3854" width="15" height="15"/></g>
<g id="n314"><text x="550" y="3885" textLength="102">16.9 파이썬 2 vs 3</text><path d="M543.500 3891H658.500"/></g>
<g id="n315"><text x="550" y="3910" textLength="141">16.19 라이브러리 설치하기</text><path d="M543.500 3916H698"/></g>
<g id="n316"><text x="730" y="3910" textLength="18">pip</text><path d="M724 3916H754"/></g>
<g id="n317"><text x="550" y="3935" textLength="141">16.21 GUI 프로그램 만들기</text><path d="M543.500 3941H698"/></g>
<g id="n318"><text x="730" y="3935" textLength="20">kivy</text><path d="M724 3941H756.500"/></g>
<g id="n319"><text x="788.500" y="3935" textLength="75">한글 폰트 문제</text><path d="M782 3941H870"/></g>
<g id="n320"><text x="902" y="3935" textLength="171">http://www.complexity.co.kr/?p=443</text><path d="M895.500 3941H1079"/></g>
<g id="n321"><text x="788.500" y="3960" textLength="21">철학</text><path d="M782 3966H816.500"/></g>
<g id="n322"><text x="849" y="3960" textLength="166">https://gigglehd.com/zbxe/9326950</text><path d="M842.500 3966H1020.500"/></g>
<g id="n323"><text x="730" y="3985" textLength="29">PyGTK</text><path d="M724 3991H765"/></g>
<g id="n324"><text x="550" y="4010" textLength="272">16.24 (고급 프로그래머를 위한) 함수형 프로그래밍</text><path d="M543.500 4016H829"/></g>
<g id="n325"><text x="421" y="4034" textLength="45">17. 부록</text><path d="M414.500 4040H472"/></g>
<g id="n326"><text x="421" y="4059" textLength="45">21. 번역</text><path d="M414.500 4065H472"/></g>
</svg>
